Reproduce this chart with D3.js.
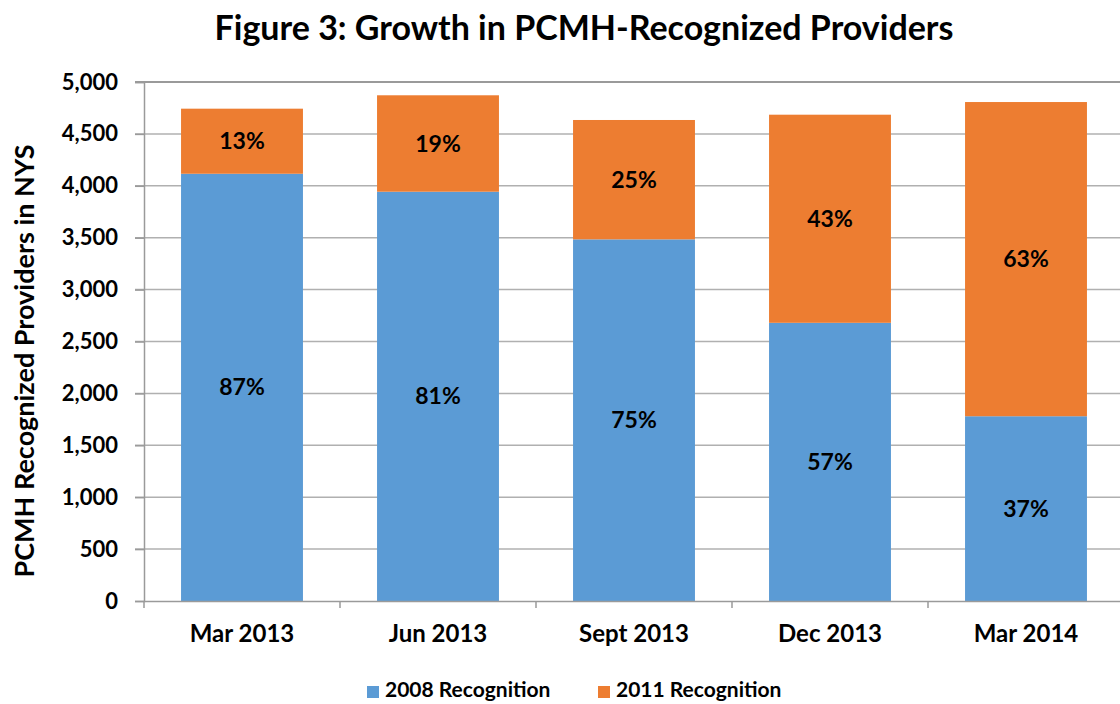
<!DOCTYPE html>
<html>
<head>
<meta charset="utf-8">
<script src="https://cdn.jsdelivr.net/npm/d3@7"></script>
<style>
  body { margin: 0; background: #fff; }
  text { font-family: Lato, "Noto Sans", sans-serif; font-weight: bold; fill: #000; }
</style>
</head>
<body>
<div id="chart"></div>
<script>
// data
const periods = ["Mar 2013", "Jun 2013", "Sept 2013", "Dec 2013", "Mar 2014"];
const rec2008 = [4116, 3943, 3484, 2680, 1780];
const rec2011 = [627, 929, 1150, 2005, 3027];
const pct2008 = ["87%", "81%", "75%", "57%", "37%"];
const pct2011 = ["13%", "19%", "25%", "43%", "63%"];
const yTicks = [0, 500, 1000, 1500, 2000, 2500, 3000, 3500, 4000, 4500, 5000];

const W = 1120, H = 704;
const margin = {top: 82, right: -4, bottom: 103, left: 144};
const width = W - margin.left - margin.right,
      height = H - margin.top - margin.bottom;

const svg = d3.select("#chart")
  .append("svg")
    .attr("width", W)
    .attr("height", H);

const g = svg.append("g")
  .attr("transform", "translate(" + margin.left + "," + margin.top + ")");

// title
svg.append("text")
  .attr("x", 584)
  .attr("y", 40)
  .attr("text-anchor", "middle")
  .style("font-size", "34px")
  .text("Figure 3: Growth in PCMH-Recognized Providers");

const x = d3.scaleBand()
  .domain(periods)
  .range([0, width])
  .paddingInner(0.378)
  .paddingOuter(0.189);

const y = d3.scaleLinear()
  .domain([0, 5000])
  .range([height, 0]);

// gridlines
g.selectAll(".grid")
  .data(yTicks.filter(d => d > 0))
  .enter().append("line")
    .attr("x1", -9)
    .attr("x2", width)
    .attr("y1", d => y(d))
    .attr("y2", d => y(d))
    .attr("stroke", d => d == 5000 ? "#9a9a9a" : "#b0b0b0")
    .attr("stroke-width", d => d == 5000 ? 2 : 1.5);

// y axis
const yAxis = g.append("g")
  .call(d3.axisLeft(y).tickValues(yTicks).tickSize(9).tickPadding(17).tickFormat(d3.format(",")));
yAxis.selectAll("text").style("font-size", "22px");
yAxis.selectAll("line").attr("stroke", "#9a9a9a").attr("stroke-width", 1.5);
yAxis.select(".domain").attr("stroke", "#9a9a9a").attr("stroke-width", 1.5);

// stacked bars
const rows = periods.map((p, i) => ({period: p, a: rec2008[i], b: rec2011[i], pa: pct2008[i], pb: pct2011[i]}));

g.selectAll(".bar2008")
  .data(rows)
  .enter().append("rect")
    .attr("x", d => x(d.period))
    .attr("y", d => y(d.a))
    .attr("width", x.bandwidth())
    .attr("height", d => height - y(d.a))
    .attr("fill", "#5b9bd5");

g.selectAll(".bar2011")
  .data(rows)
  .enter().append("rect")
    .attr("x", d => x(d.period))
    .attr("y", d => y(d.a + d.b))
    .attr("width", x.bandwidth())
    .attr("height", d => y(d.a) - y(d.a + d.b))
    .attr("fill", "#ed7d31");

// percent labels
g.selectAll(".lab2008")
  .data(rows)
  .enter().append("text")
    .attr("x", d => x(d.period) + x.bandwidth() / 2)
    .attr("y", d => (y(d.a) + height) / 2)
    .attr("dy", "0.35em")
    .attr("text-anchor", "middle")
    .style("font-size", "23px")
    .text(d => d.pa);

g.selectAll(".lab2011")
  .data(rows)
  .enter().append("text")
    .attr("x", d => x(d.period) + x.bandwidth() / 2)
    .attr("y", d => (y(d.a) + y(d.a + d.b)) / 2)
    .attr("dy", "0.35em")
    .attr("text-anchor", "middle")
    .style("font-size", "23px")
    .text(d => d.pb);

// x axis
const xAxis = g.append("g")
  .attr("transform", "translate(0," + height + ")")
  .call(d3.axisBottom(x).tickSize(0).tickPadding(24));
xAxis.selectAll("text").style("font-size", "24px");
xAxis.select(".domain").attr("stroke", "#9a9a9a").attr("stroke-width", 1.5);
// category boundary ticks
g.selectAll(".xtick")
  .data(periods)
  .enter().append("line")
    .attr("x1", d => x(d) - x.step() * x.paddingInner() / 2)
    .attr("x2", d => x(d) - x.step() * x.paddingInner() / 2)
    .attr("y1", height)
    .attr("y2", height + 7)
    .attr("stroke", "#9a9a9a")
    .attr("stroke-width", 1.5);

// y axis label
svg.append("text")
  .attr("transform", "translate(34,361) rotate(-90)")
  .attr("text-anchor", "middle")
  .style("font-size", "27px")
  .text("PCMH Recognized Providers in NYS");

// legend
const legendItems = [
  {label: "2008 Recognition", color: "#5b9bd5", x: 367},
  {label: "2011 Recognition", color: "#ed7d31", x: 598}
];
const legend = svg.selectAll(".legend")
  .data(legendItems)
  .enter().append("g")
    .attr("transform", d => "translate(" + d.x + ",686)");
legend.append("rect")
  .attr("width", 12)
  .attr("height", 12)
  .attr("fill", d => d.color);
legend.append("text")
  .attr("x", 18)
  .attr("y", 4)
  .attr("dy", "0.35em")
  .style("font-size", "21px")
  .text(d => d.label);
</script>
</body>
</html>
